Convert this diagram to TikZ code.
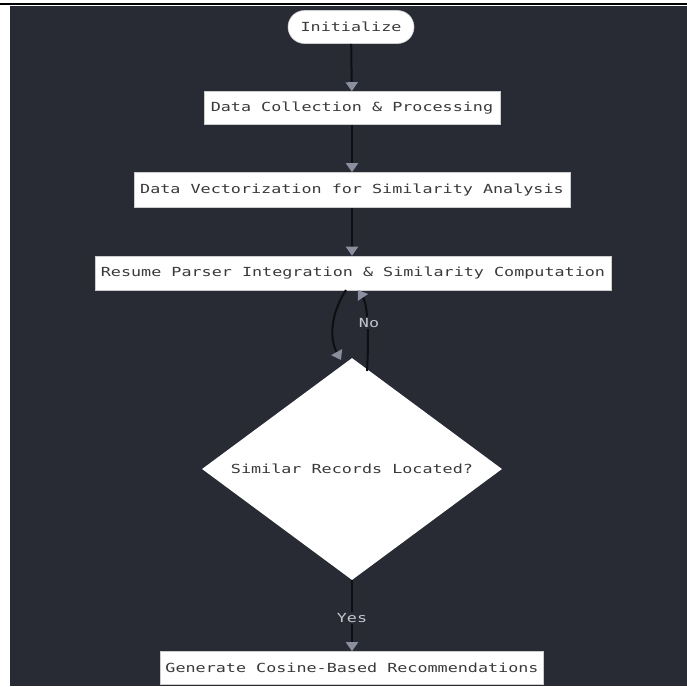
\documentclass[tikz,border=0pt]{standalone}
\usepackage{fontspec}
\newfontfamily\monof[FakeStretch=1.34]{DejaVu Sans Mono}
\usetikzlibrary{shapes.geometric,arrows.meta}
\definecolor{bgdark}{HTML}{282B34}
\definecolor{txtgray}{HTML}{3A3A3A}
\definecolor{headgray}{HTML}{8A8E9E}
\definecolor{lblgray}{HTML}{C4C6CE}
\definecolor{linedark}{HTML}{0E0F12}
\tikzset{
  x=1pt, y=-1pt,
  every node/.style={font=\monof\fontsize{12.5pt}{14pt}\selectfont, text=txtgray},
  procbox/.style={draw=gray!40, line width=0.6pt, fill=white, minimum height=33pt, inner sep=0pt},
  startbox/.style={draw=gray!40, line width=0.6pt, fill=white, rounded corners=16.5pt, minimum height=33pt, minimum width=126pt, inner sep=0pt},
  decbox/.style={draw=none, fill=white, shape=diamond, aspect=1.35, minimum width=300pt, minimum height=222pt, inner sep=0pt},
  conn/.style={draw=linedark, line width=2pt, -{Triangle[color=headgray, length=9pt, width=12pt]}},
  lbl/.style={fill=bgdark, text=lblgray, inner sep=1.5pt}
}
\begin{document}
\begin{tikzpicture}
\useasboundingbox (0,0) rectangle (687,686);
\fill[white] (0,0) rectangle (687,686);
\fill[bgdark] (10,6) rectangle (687,686);
\draw[black, line width=1.5pt] (0,4) -- (687,4);

\node[startbox] (init) at (351,27) {Initialize};
\node[procbox, minimum width=296pt] (dcp) at (352,108) {Data Collection \& Processing};
\node[procbox, minimum width=436pt, minimum height=35pt] (dv) at (352,190) {Data Vectorization for Similarity Analysis};
\node[procbox, minimum width=516pt, minimum height=34pt] (rp) at (353,273) {Resume Parser Integration \& Similarity Computation};
\node[decbox] (dia) at (352,469) {Similar Records Located?};
\node[procbox, minimum width=383pt] (gen) at (352,668) {Generate Cosine-Based Recommendations};

\draw[conn] (init) -- (dcp);
\draw[conn] (dcp) -- (dv);
\draw[conn] (dv) -- (rp.north -| dv.south);

\coordinate (rpL) at (346,290);
\coordinate (diaL) at (341,360);
\coordinate (diaR) at (367,371);
\coordinate (rpR) at (358,290);
\draw[conn] (rpL) .. controls (328,318) and (331,342) .. (diaL);
\draw[conn] (diaR) .. controls (369,336) and (368,305) .. (rpR);
\node[lbl] (no) at (369,323) {No};

\draw[conn] (dia.south) -- (gen.north);
\node[lbl] (yes) at (352,618) {Yes};
\end{tikzpicture}
\end{document}
